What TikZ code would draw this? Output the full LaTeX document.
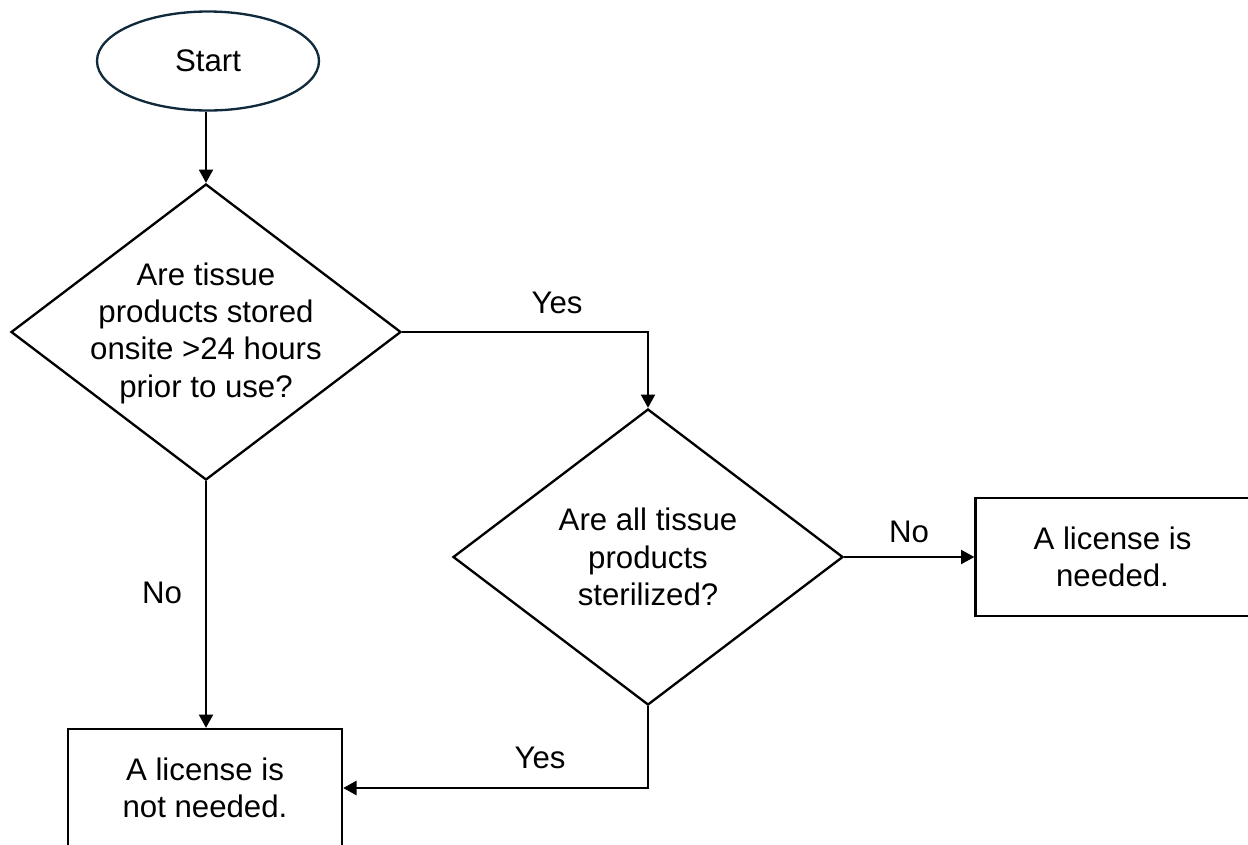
\documentclass[tikz,border=0pt]{standalone}
\usepackage{fontspec}
\setmainfont{Liberation Sans}
\usetikzlibrary{shapes.geometric,arrows.meta}
\definecolor{navy}{RGB}{16,42,60}
\tikzset{
  every node/.style={font=\fontsize{23.4}{28}\selectfont},
  line/.style={line width=1.75pt},
  arr/.style={line, -{Triangle[length=10pt,width=10.5pt]}},
  dia/.style={draw, line width=1.75pt, diamond, inner sep=0pt, minimum width=292.5pt, minimum height=222pt},
  box/.style={draw, line width=1.75pt, rectangle, inner sep=0pt, minimum width=205.5pt, minimum height=88.5pt, align=center},
  term/.style={draw=navy, line width=1.75pt, ellipse, inner sep=0pt, minimum width=166.5pt, minimum height=74.25pt},
  txt/.style={align=center, inner sep=0pt},
  lbl/.style={anchor=base, inner sep=0pt}
}
\begin{document}
\begin{tikzpicture}[x=0.75pt,y=-0.75pt]
\useasboundingbox (0,0) rectangle (1248,844);
\clip (0,0) rectangle (1248,844);
\node[term] (start) at (208,61) {};
\node[txt] (ts) at (208,61) {Start};
\node[dia] (d1) at (206,332) {};
\node[txt] (t1) at (206,333) {Are tissue\\products stored\\onsite >24 hours\\prior to use?};
\node[dia] (d2) at (648,557) {};
\node[txt] (t2) at (648,557) {Are all tissue\\products\\sterilized?};
\node[box] (b2) at (1112.5,557) {A license is\\needed.};
\node[box] (b1) at (205,788) {A license is\\not needed.};
\draw[arr] (d1.north |- start.south) -- (d1.north);
\draw[arr] (d1.east) -| (d2.north);
\draw[arr] (d1.south) -- (d1.south |- b1.north);
\draw[arr] (d2.east) -- (b2.west);
\draw[arr] (d2.south) |- (b1.east);
\node[lbl] (y1) at (557,313) {Yes};
\node[lbl] (n1) at (162,603) {No};
\node[lbl] (n2) at (909,542) {No};
\node[lbl] (y2) at (540,768) {Yes};
\end{tikzpicture}
\end{document}
